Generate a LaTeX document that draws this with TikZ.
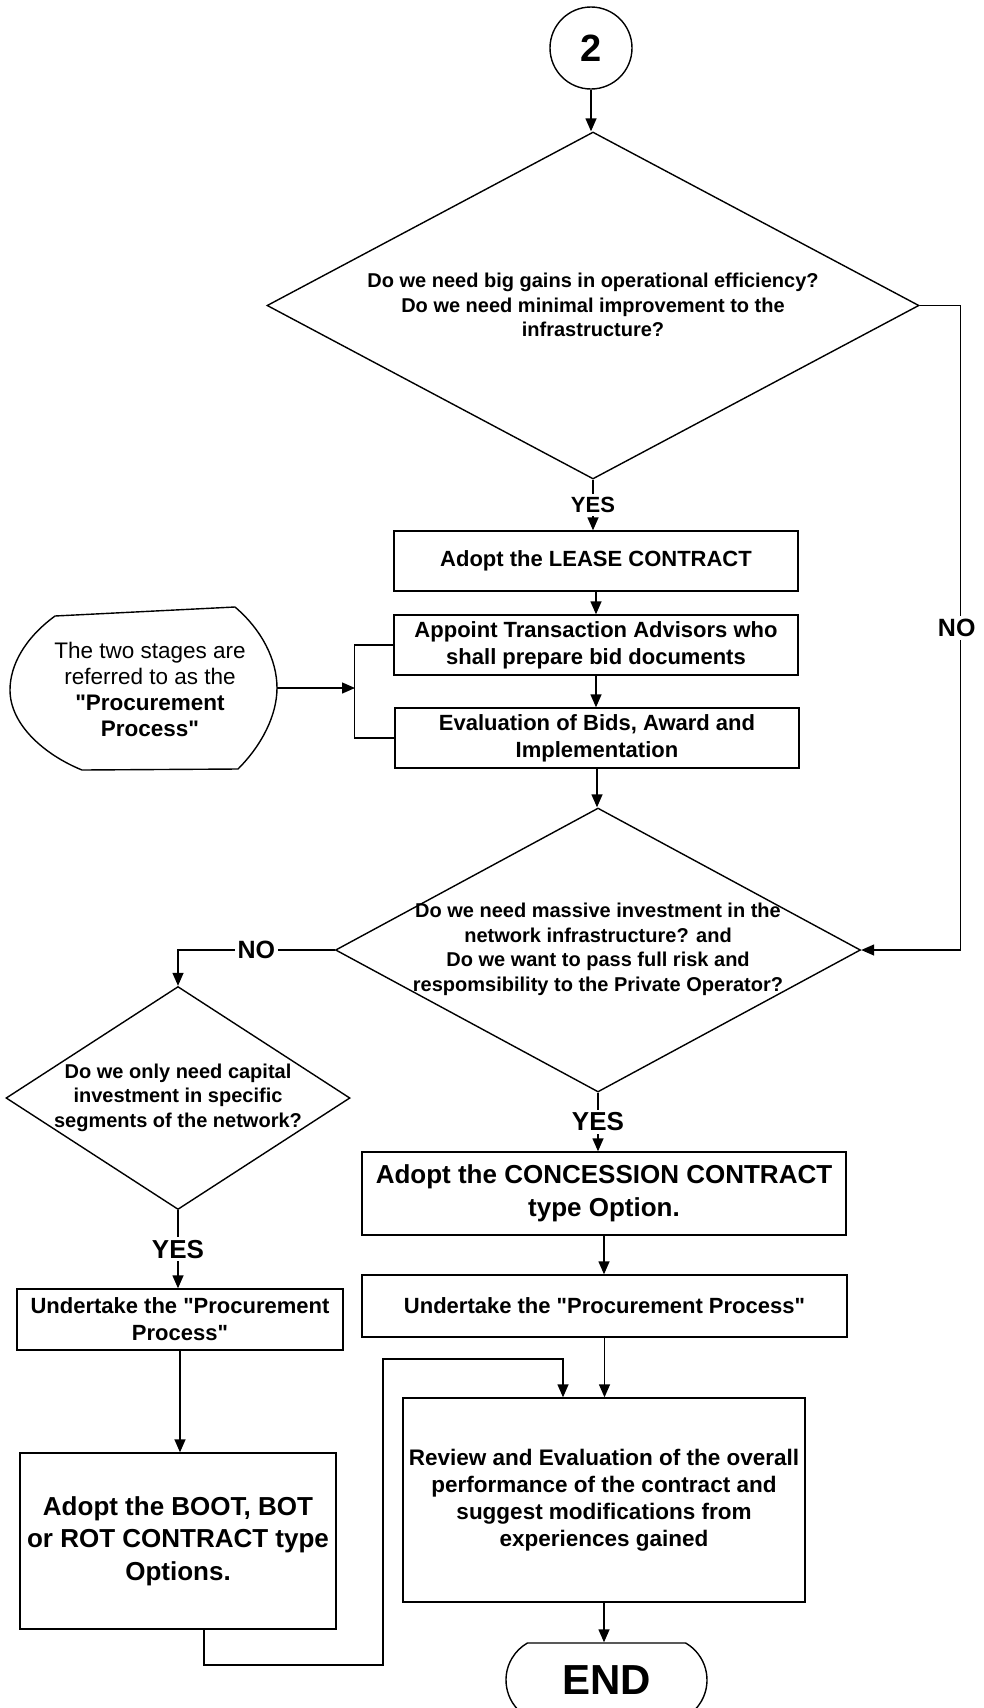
\documentclass[tikz,border=0pt]{standalone}
\usepackage{fontspec}
\setmainfont{Liberation Sans}[Ligatures=TeXOff]
\usetikzlibrary{arrows.meta,shapes.geometric,shapes.misc}
\newcommand{\dq}{\symbol{34}}
\begin{document}
\begin{tikzpicture}[x=1pt,y=-1pt,
  ln/.style={line width=1.4pt},
  arr/.style={ln,-{Triangle[length=13pt,width=11pt]}},
  box/.style={draw,ln,rectangle,inner sep=0pt,align=center,font=\bfseries\fontsize{22}{27}\selectfont},
  bigbox/.style={box,font=\bfseries\fontsize{26}{32.5}\selectfont},
  dia/.style={draw,ln,diamond,inner sep=0pt},
  dtext/.style={align=center,font=\bfseries\fontsize{20}{24.5}\selectfont},
  lbl/.style={fill=white,inner sep=3pt,font=\bfseries\fontsize{22}{22}\selectfont},
  lblbig/.style={lbl,font=\bfseries\fontsize{26}{26}\selectfont},
  nolbl/.style={lbl,font=\bfseries\fontsize{25}{25}\selectfont}]
\useasboundingbox (0,0) rectangle (984,1708);

% nodes
\node[draw,ln,circle,minimum size=82pt,inner sep=0pt,font=\bfseries\fontsize{38}{38}\selectfont] (start) at (591,48) {2};
\node[dia,minimum width=652pt,minimum height=347pt] (d1) at (593,305.5) {};
\node[dtext] (d1t) at (593,305) {Do we need big gains in operational efficiency?\\Do we need minimal improvement to the\\infrastructure?};
\node[box,minimum width=404pt,minimum height=60pt] (b1) at (596,561) {Adopt the LEASE CONTRACT};
\node[box,minimum width=404pt,minimum height=60pt] (b2) at (596,645) {Appoint Transaction Advisors who\\shall prepare bid documents};
\node[box,minimum width=404pt,minimum height=60pt] (b3) at (597,738) {Evaluation of Bids, Award and\\Implementation};
\node[dia,minimum width=525pt,minimum height=284pt] (d2) at (598,950) {};
\node[dtext] (d2t) at (598,949.5) {Do we need massive investment in the\\network infrastructure? and\\Do we want to pass full risk and\\respomsibility to the Private Operator?};
\node[bigbox,minimum width=484pt,minimum height=83pt] (c1) at (604,1193.5) {Adopt the CONCESSION CONTRACT\\type Option.};
\node[box,minimum width=485pt,minimum height=62pt] (c2) at (604.5,1306) {Undertake the \dq Procurement Process\dq};
\node[box,font=\bfseries\fontsize{22.5}{27}\selectfont,minimum width=402pt,minimum height=204pt] (rv) at (604,1500) {Review and Evaluation of the overall\\performance of the contract and\\suggest modifications from\\experiences gained};
\node[draw,ln,rounded rectangle,rounded rectangle arc length=120,minimum width=201pt,minimum height=74pt,inner sep=0pt,font=\bfseries\fontsize{42}{42}\selectfont] (end) at (606.5,1680) {END};
\node[dia,minimum width=344pt,minimum height=223pt] (d3) at (178,1098) {};
\node[dtext] (d3t) at (178,1097.5) {Do we only need capital\\investment in specific\\segments of the network?};
\node[box,minimum width=326pt,minimum height=61pt] (l1) at (180,1319.5) {Undertake the \dq Procurement\\Process\dq};
\node[bigbox,minimum width=316pt,minimum height=176pt] (l2) at (178,1541) {Adopt the BOOT, BOT\\or ROT CONTRACT type\\Options.};

% note shape
\node[align=center,font=\fontsize{22.5}{26}\selectfont] (note) at (150,689) {The two stages are\\referred to as the\\\textbf{\dq Procurement}\\\textbf{Process\dq}};
\draw[ln] (235,607) -- (55,616) .. controls (25,638) and (10,665) .. (10,690)
  .. controls (10,725) and (45,755) .. (82,770) -- (238,769)
  .. controls (262,745) and (277,715) .. (277,688)
  .. controls (277,660) and (262,630) .. (235,607);
\coordinate (noteR) at (277,688);
\coordinate (bk) at (355,688);

% connectors
\draw[arr] (start.south) -- (start.south |- d1.north);
\draw[arr] (d1.south) -- (d1.south |- b1.north) node[lbl,midway]{YES};
\draw[arr] (b1.south) -- (b1.south |- b2.north);
\draw[arr] (b2.south) -- (b2.south |- b3.north);
\draw[arr] (b3.south) -- (b3.south |- d2.north);
\draw[arr] (d1.east) -- ++(41,0) |- (d2.east) node[nolbl,pos=0.25,xshift=-4pt]{NO};
\draw[arr] (d2.west) -| (d3.north) node[nolbl,pos=0.25]{NO};
\draw[arr] (d2.south) -- (d2.south |- c1.north) node[lblbig,midway]{YES};
\draw[arr] (c1.south) -- (c1.south |- c2.north);
\draw[arr] (c2.south) -- (c2.south |- rv.north);
\draw[arr] (rv.south) -- (rv.south |- end.north);
\draw[arr] (d3.south) -- (d3.south |- l1.north) node[lblbig,midway]{YES};
\draw[arr] (l1.south) -- (l1.south |- l2.north);
\coordinate (k1) at (383,1665);
\coordinate (k2) at (383,1359);
\draw[arr] ([xshift=26pt]l2.south) |- (k1) -- (k2) -| ([xshift=-41pt]rv.north);
\draw[ln] (b2.west) -- ++(-39,0) |- (b3.west);
\draw[arr] (noteR) -- (bk);
\end{tikzpicture}
\end{document}
